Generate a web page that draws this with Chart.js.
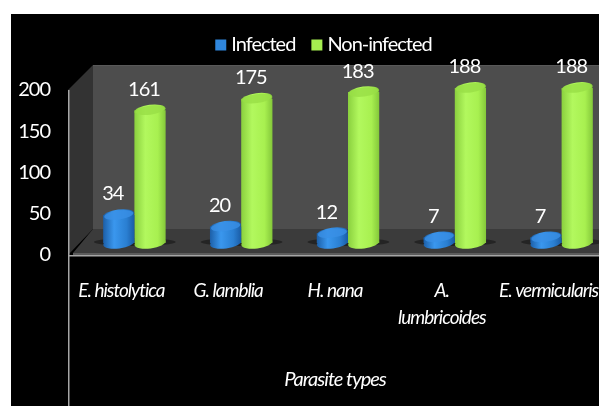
<!DOCTYPE html>
<html><head><meta charset="utf-8">
<style>html,body{margin:0;padding:0;background:#fff;width:599px;height:406px;overflow:hidden}canvas{display:block}</style>
<script src="https://cdn.jsdelivr.net/npm/chart.js@4"></script></head>
<body><canvas id="c" width="644" height="406" style="width:644px;height:406px"></canvas>
<script>
const categories = ["E. histolytica", "G. lamblia", "H. nana", ["A.", "lumbricoides"], "E. vermicularis"];
const infected = [34, 20, 12, 7, 7];
const nonInfected = [161, 175, 183, 188, 188];
const seriesNames = ["Infected", "Non-infected"];
const axisTitle = "Parasite types";
const FONT = 'Lato,"Open Sans",sans-serif';
const SPACING = '-1px';
const CAT = 0.585, RY = 5.5, TILT = -0.13;
const palette = {
  Infected: {solid:'#2f86dc', stops:['#1c5fa8','#3a97ee','#2a7fd2','#1a5ca6'], top:'#3a90e6'},
  'Non-infected': {solid:'#a6ee50', stops:['#8ad03e','#b2f85e','#a8f050','#84c83a'], top:'#98de46'}
};
function grad(c, x0, x1, p){
  const g = c.createLinearGradient(x0,0,x1,0);
  g.addColorStop(0,p.stops[0]);g.addColorStop(.35,p.stops[1]);g.addColorStop(.75,p.stops[2]);g.addColorStop(1,p.stops[3]);
  return g;
}
function fill(ctx){
  const ds = ctx.dataset, p = palette[ds.label];
  if (ctx.type !== 'data' || !ctx.chart.chartArea) return p.solid;
  const xs = ctx.chart.scales.x, w = xs.width/categories.length*CAT/2;
  const cx = xs.getPixelForTick(ctx.dataIndex);
  const x0 = ctx.datasetIndex===0 ? cx-w : cx;
  return grad(ctx.chart.ctx, x0, x0+w, p);
}
const scene = {
  id:'scene',
  beforeLayout(chart){
    chart.ctx.letterSpacing = SPACING;
    const lg = chart.legend;
    if (!lg._wrapped){
      const f = lg.fit, d = lg.draw;
      lg.fit = function(){ f.call(this); this.height = 76; };
      lg.draw = function(){ const c = this.ctx; c.save(); c.translate(10,0); d.call(this); c.restore(); };
      lg._wrapped = true;
    }
  },
  beforeDraw(chart){
    const c = chart.ctx, a = chart.chartArea, yb = a.bottom, yt = a.top;
    const L = a.left-13;
    c.letterSpacing = SPACING;
    c.save();
    c.fillStyle='#000'; c.fillRect(11,14,chart.width,chart.height);
    c.fillStyle='#4d4d4d'; c.fillRect(L+25,yt-25,chart.width,164);
    c.fillStyle='#595959'; c.fillRect(L+25,yt-25,chart.width,1);
    c.fillStyle='#333'; c.beginPath(); c.moveTo(L,yt); c.lineTo(L+25,yt-25); c.lineTo(L+25,yb-26); c.lineTo(L,yb); c.closePath(); c.fill();
    c.fillStyle='#3b3b3b'; c.beginPath(); c.moveTo(L+5,yb-2); c.lineTo(L+25,yb-26); c.lineTo(chart.width,yb-26); c.lineTo(chart.width,yb-2); c.closePath(); c.fill();
    c.fillStyle='#a6a6a6'; c.fillRect(L,yt,1.5,chart.height-yt);
    c.fillRect(L,yb,chart.width,1.5);
    c.fillStyle='#5c5c5c'; c.fillRect(L+5,yb-2,chart.width,2);
    const m0 = chart.getDatasetMeta(0).data;
    c.fillStyle='rgba(0,0,0,.38)';
    m0.forEach(el=>{ c.beginPath(); c.ellipse(el.x+16,el.base-1,41,4,0,0,Math.PI*2); c.fill(); });
    c.restore();
  },
  afterDatasetDraw(chart,args){
    const c = chart.ctx, ds = chart.data.datasets[args.index], p = palette[ds.label];
    c.save();
    args.meta.data.forEach(el=>{
      const w = el.width, x0 = el.x-w/2, rx = w/2;
      c.fillStyle = grad(c,x0,x0+w,p);
      c.beginPath(); c.ellipse(el.x,el.base,rx,RY,TILT,0,Math.PI*2); c.fill();
      c.beginPath(); c.ellipse(el.x,el.y,rx,RY,TILT,0,Math.PI*2); c.fill();
      c.fillStyle = p.top; c.globalAlpha=.8;
      c.beginPath(); c.ellipse(el.x,el.y,rx-1,RY-1,TILT,0,Math.PI*2); c.fill();
      c.globalAlpha=1;
    });
    c.restore();
  },
  afterDraw(chart){
    const c = chart.ctx, xs = chart.scales.x;
    c.save();
    c.fillStyle='#fff'; c.textAlign='center'; c.textBaseline='middle';
    c.font='20px '+FONT;
    chart.data.datasets.forEach((ds,i)=>{
      chart.getDatasetMeta(i).data.forEach((el,j)=>{
        c.fillText(String(ds.data[j]), el.x-6, el.y-21);
      });
    });
    c.font='italic 20px '+FONT;
    c.fillText(axisTitle,(xs.left+xs.right)/2-13,380);
    c.restore();
  }
};
new Chart(document.getElementById('c'),{
  type:'bar',
  data:{labels:categories,datasets:[
    {label:seriesNames[0],data:infected,yAxisID:'y2',clip:false,backgroundColor:fill,borderWidth:0,barPercentage:1,categoryPercentage:CAT},
    {label:seriesNames[1],data:nonInfected,yAxisID:'y2',clip:false,backgroundColor:fill,borderWidth:0,barPercentage:1,categoryPercentage:CAT}
  ]},
  options:{
    responsive:false,animation:false,
    layout:{padding:{top:14,right:29,left:17,bottom:0}},
    plugins:{
      tooltip:{enabled:false},
      legend:{display:true,position:'top',labels:{color:'#fff',usePointStyle:true,pointStyle:'rect',boxWidth:1,boxHeight:11,padding:21,font:{family:FONT,size:20},
        generateLabels(chart){
          return Chart.defaults.plugins.legend.labels.generateLabels(chart).map(item=>{
            item.fillStyle = palette[item.text].solid;
            item.strokeStyle = palette[item.text].solid;
            item.lineWidth = 0;
            return item;
          });
        }}}
    },
    scales:{
      x:{type:'category',offset:true,grid:{display:false,drawTicks:false},border:{display:false},
         afterFit(s){s.height=151;},
         ticks:{color:'#fff',autoSkip:false,maxRotation:0,minRotation:0,labelOffset:-13,padding:22,font:{family:FONT,size:19,style:'italic',lineHeight:1.42}}},
      y:{position:'left',min:0,max:200,grid:{display:false,drawTicks:false},border:{display:false},
         afterFit(s){s.width=64;},
         ticks:{stepSize:50,color:'#fff',padding:31,font:{family:FONT,size:20}}},
      y2:{display:false,min:-14.5,max:185.5}
    }
  },
  plugins:[scene]
});
</script></body></html>
